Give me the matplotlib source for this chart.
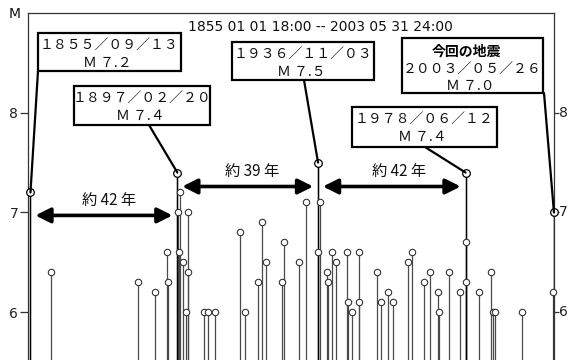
import matplotlib
matplotlib.use('Agg')
import matplotlib.pyplot as plt
import matplotlib.transforms as mtransforms
from matplotlib.patches import Rectangle, FancyArrowPatch, ConnectionPatch

# ---------------- data ----------------
title = '1855 01 01 18:00 -- 2003 05 31 24:00'
x_start = 1855.0 + 0.75 / 365
x_end = 2003.0 + 151.0 / 365

dates = [1855.70, 1861.40, 1886.10, 1890.80, 1894.30, 1894.60,
         1897.14, 1897.45, 1897.70, 1897.95, 1898.70, 1899.50,
         1900.10, 1900.25, 1904.80, 1905.80, 1907.90, 1914.80,
         1916.10, 1919.80, 1921.00, 1922.10, 1926.70, 1927.20,
         1931.60, 1933.40, 1936.84, 1936.95, 1937.40, 1939.50,
         1939.65, 1940.70, 1941.90, 1944.90, 1945.30, 1946.50,
         1948.30, 1948.45, 1953.60, 1954.60, 1956.70, 1958.00,
         1962.30, 1963.40, 1966.70, 1968.30, 1970.70, 1971.10,
         1973.70, 1976.80, 1978.45, 1978.55, 1978.65, 1982.15,
         1985.50, 1986.20, 1986.90, 1994.30, 2003.00, 2003.40]
mags = [7.2, 6.4, 6.3, 6.2, 6.6, 6.3,
        7.4, 7.0, 6.6, 7.2, 6.5, 6.0,
        7.0, 6.4, 6.0, 6.0, 6.0, 6.8,
        6.0, 6.3, 6.9, 6.5, 6.3, 6.7,
        6.5, 7.1, 7.5, 6.6, 7.1, 6.4,
        6.3, 6.6, 6.5, 6.6, 6.1, 6.0,
        6.6, 6.1, 6.4, 6.1, 6.2, 6.1,
        6.5, 6.6, 6.3, 6.4, 6.2, 6.0,
        6.4, 6.2, 7.4, 6.7, 6.3, 6.2,
        6.4, 6.0, 6.0, 6.0, 6.2, 7.0]

major_dates = [1855.70, 1897.14, 1936.84, 1978.45, 2003.40]
major_mags = [7.2, 7.4, 7.5, 7.4, 7.0]
major_date_labels = ['１８５５／０９／１３', '１８９７／０２／２０', '１９３６／１１／０３',
                     '１９７８／０６／１２', '２００３／０５／２６']
major_m_labels = ['Ｍ ７.２', 'Ｍ ７.４', 'Ｍ ７.５', 'Ｍ ７.４', 'Ｍ ７.０']
current_label = '今回の地震'
interval_labels = ['約 42 年', '約 39 年', '約 42 年']
yticks = [6, 7, 8]
ylabel = 'M'

# ---------------- figure ----------------
W, H = 570, 360
fig = plt.figure(figsize=(W / 100, H / 100), dpi=100)
fig.patch.set_facecolor('white')

def P(x, y):
    return (x / W, 1 - y / H)

ax = fig.add_axes([28 / W, 0, 526 / W, 347 / H])
ax.set_xlim(x_start, x_end)
ax.set_ylim(5.52, 9.0)
for s in ['left', 'right', 'top']:
    ax.spines[s].set_color('#333333')
    ax.spines[s].set_linewidth(0.9)
ax.spines['bottom'].set_visible(False)
ax.set_xticks([])
ax.set_yticks(yticks)
ax.set_yticklabels([str(t) for t in yticks])
ax.tick_params(axis='y', direction='out', length=5.5, width=0.9, color='#333333',
               labelsize=10, pad=1.5, left=True, right=True,
               labelleft=True, labelright=False, labelcolor='#222222')
for t in ax.yaxis.get_major_ticks():
    t.tick2line.set_markersize(3.8)
trans_r = mtransforms.blended_transform_factory(ax.transAxes, ax.transData)
for t in yticks:
    ax.text(1 + 9.5 / 526, t, str(t), transform=trans_r, ha='center', va='center',
            fontsize=10, color='#222222', clip_on=False)

# stems & small markers
ax.vlines(dates, 5.0, mags, colors='#4a4a4a', linewidth=0.9, zorder=2)
small_d = [d for d, m in zip(dates, mags) if d not in major_dates]
small_m = [m for d, m in zip(dates, mags) if d not in major_dates]
ax.plot(small_d, small_m, 'o', ms=4.6, mfc='white', mec='#333333', mew=0.8,
        zorder=3, clip_on=False)

# major events
ax.vlines(major_dates, 5.0, major_mags, colors='black', linewidth=1.0, zorder=2)
ax.plot(major_dates, major_mags, 'o', ms=5.5, mfc='white', mec='black', mew=0.9,
        zorder=6, clip_on=False)

# interval arrows
arrow_y = [6.97, 7.26, 7.26]
label_px = [(109, 200), (252.5, 171.5), (399, 171.5)]
jp = ['Noto Sans CJK JP', 'DejaVu Sans']
for i in range(3):
    arr = FancyArrowPatch((major_dates[i], arrow_y[i]), (major_dates[i + 1], arrow_y[i]),
                          arrowstyle='<|-|>,head_length=9,head_width=4.5',
                          mutation_scale=1, lw=2.6, color='black',
                          shrinkA=3.5, shrinkB=3.5, zorder=5)
    ax.add_patch(arr)
    fig.text(*P(*label_px[i]), interval_labels[i], ha='center', va='center',
             fontsize=11, family=jp, color='#111111')

# annotation boxes (pixel layout)
boxes = [(38, 33, 181, 71), (74, 86, 210, 125), (232, 42, 374, 80),
         (352, 107, 497, 147), (402, 38, 543, 93)]
line_start = [(38, 71), (149, 125), (304, 80), (425, 147), (544, 93)]
for i, (x0, y0, x1, y1) in enumerate(boxes):
    r = Rectangle(P(x0, y1), (x1 - x0) / W, (y1 - y0) / H, transform=fig.transFigure,
                  facecolor='white', edgecolor='black', lw=1.6, zorder=10)
    fig.add_artist(r)
    cx = (x0 + x1) / 2
    if i == 4:
        fig.text(*P(cx - 6, y0 + 13.5), current_label, ha='center', va='center',
                 fontsize=10, family=jp, fontweight='bold', zorder=11)
        ty1, ty2 = y0 + 31, y0 + 48
    else:
        ty1, ty2 = y0 + 12, y0 + 30
    fig.text(*P(cx, ty1), major_date_labels[i], ha='center', va='center',
             fontsize=10, family=jp, color='#111111', zorder=11)
    fig.text(*P(cx - 2, ty2), major_m_labels[i], ha='center', va='center',
             fontsize=10, family=jp, color='#111111', zorder=11)
    cp = ConnectionPatch(xyA=P(*line_start[i]), coordsA=fig.transFigure,
                         xyB=(major_dates[i], major_mags[i]), coordsB=ax.transData,
                         color='black', lw=1.6, zorder=4)
    fig.add_artist(cp)

fig.text(*P(320, 27), title, ha='center', va='center', fontsize=10, color='#111111')
fig.text(*P(15, 14), ylabel, ha='center', va='center', fontsize=10, color='#111111')

fig.savefig('out.png', dpi=100)
